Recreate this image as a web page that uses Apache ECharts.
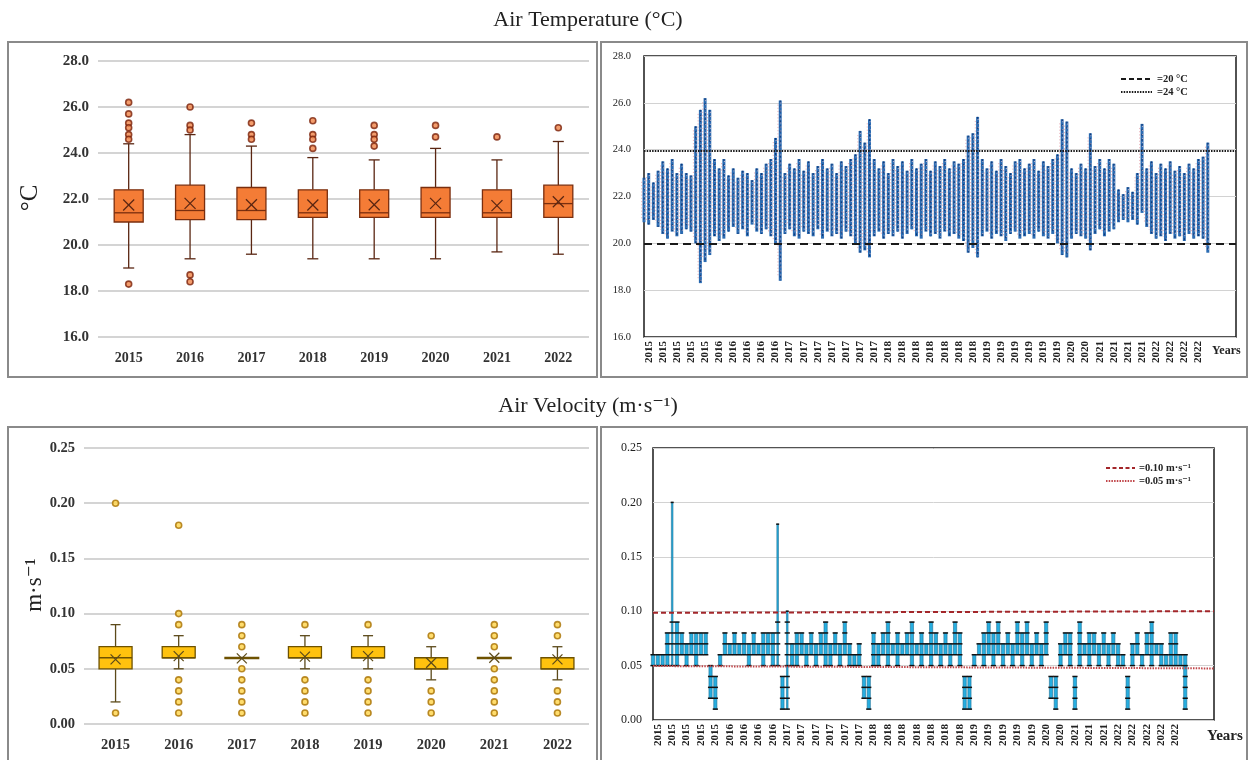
<!DOCTYPE html>
<html><head><meta charset="utf-8">
<script src="https://cdn.jsdelivr.net/npm/echarts@6/dist/echarts.min.js"></script>
<style>html,body{margin:0;padding:0;background:#fff}#c{width:1253px;height:760px}</style>
</head><body><div id="c"></div>
<script>
// ---------- DATA ----------
const years = ['2015','2016','2017','2018','2019','2020','2021','2022'];

// Air temperature box plots: [min whisker, Q1, median, Q3, max whisker]
const tempBox = [
  [19.0,21.0,21.4,22.4,24.4],
  [19.4,21.1,21.5,22.6,24.8],
  [19.6,21.1,21.5,22.5,24.3],
  [19.4,21.2,21.4,22.4,23.8],
  [19.4,21.2,21.4,22.4,23.7],
  [19.4,21.2,21.4,22.5,24.2],
  [19.7,21.2,21.4,22.4,23.7],
  [19.6,21.2,21.8,22.6,24.5]
];
const tempMean = [21.74,21.81,21.75,21.74,21.75,21.81,21.71,21.88];
const tempOut = [
  [26.2,25.7,25.3,25.1,24.8,24.6,18.3],
  [26.0,25.2,25.0,18.7,18.4],
  [25.3,24.8,24.6],
  [25.4,24.8,24.6,24.2],
  [25.2,24.8,24.6,24.3],
  [25.2,24.7],
  [24.7],
  [25.1]
];

// Air velocity box plots
const velBox = [
  [0.02,0.05,0.06,0.07,0.09],
  [0.05,0.06,0.06,0.07,0.08],
  [0.06,0.06,0.06,0.06,0.06],
  [0.05,0.06,0.06,0.07,0.08],
  [0.05,0.06,0.06,0.07,0.08],
  [0.04,0.05,0.05,0.06,0.07],
  [0.06,0.06,0.06,0.06,0.06],
  [0.04,0.05,0.05,0.06,0.07]
];
const velMean = [0.0585,0.0615,0.0595,0.061,0.0615,0.0555,0.060,0.0585];
const velOut = [
  [0.20,0.01],
  [0.18,0.10,0.09,0.04,0.03,0.02,0.01],
  [0.09,0.08,0.07,0.05,0.04,0.03,0.02,0.01],
  [0.09,0.04,0.03,0.02,0.01],
  [0.09,0.04,0.03,0.02,0.01],
  [0.08,0.03,0.02,0.01],
  [0.09,0.08,0.07,0.05,0.04,0.03,0.02,0.01],
  [0.09,0.08,0.03,0.02,0.01]
];

// Time series tick labels
const tsLabelsT = ['2015','2015','2015','2015','2015','2016','2016','2016','2016','2016',
  '2017','2017','2017','2017','2017','2017','2017','2018','2018','2018','2018','2018','2018','2018',
  '2019','2019','2019','2019','2019','2019','2020','2020','2021','2021','2021','2021',
  '2022','2022','2022','2022'];
const tsLabelsV = ['2015','2015','2015','2015','2015','2016','2016','2016','2016',
  '2017','2017','2017','2017','2017','2017','2018','2018','2018','2018','2018','2018','2018',
  '2019','2019','2019','2019','2019','2020','2020','2021','2021','2021',
  '2022','2022','2022','2022','2022'];

// Temperature time series (low / high per period)
const tLow = [20.9,20.8,21.0,20.7,20.4,20.2,20.5,20.3,20.4,20.6,20.5,
  20.0,18.3,19.2,19.5,
  20.3,20.1,20.2,
  20.5,20.7,20.4,20.6,20.3,20.8,20.5,20.4,20.6,20.3,
  20.0,18.4,
  20.4,20.6,20.3,20.2,20.5,20.4,20.3,20.6,20.2,20.5,20.3,20.4,20.2,20.5,20.3,20.0,
  19.6,19.7,19.4,
  20.3,20.5,20.2,20.4,20.3,20.5,20.2,20.4,20.6,20.3,20.2,20.5,20.3,20.4,20.2,20.5,20.3,20.4,20.2,20.1,
  19.6,19.8,19.4,
  20.3,20.5,20.2,20.4,20.3,20.1,20.4,20.5,20.2,20.3,20.4,20.2,20.5,20.3,20.2,20.4,20.0,
  19.5,19.4,
  20.2,20.4,20.3,20.2,
  19.7,
  20.4,20.6,20.3,20.5,20.6,
  20.9,21.0,20.9,21.0,
  20.8,21.3,20.7,
  20.4,20.2,20.3,20.1,20.4,20.2,20.3,20.1,20.4,20.2,20.3,
  20.2,19.6];
const tHigh = [22.8,23.0,22.6,23.1,23.5,23.2,23.6,23.0,23.4,23.0,22.9,
  25.0,25.7,26.2,25.7,
  23.6,23.2,23.6,
  22.9,23.2,22.8,23.1,23.0,22.7,23.2,23.0,23.4,23.6,
  24.5,26.1,
  23.0,23.4,23.2,23.6,23.1,23.5,23.0,23.3,23.6,23.2,23.4,23.0,23.5,23.3,23.6,23.8,
  24.8,24.3,25.3,
  23.6,23.2,23.5,23.0,23.6,23.3,23.5,23.1,23.6,23.2,23.4,23.6,23.1,23.5,23.3,23.6,23.2,23.5,23.4,23.6,
  24.6,24.7,25.4,
  23.6,23.2,23.5,23.1,23.6,23.3,23.0,23.5,23.6,23.2,23.4,23.6,23.1,23.5,23.3,23.6,23.8,
  25.3,25.2,
  23.2,23.0,23.4,23.2,
  24.7,
  23.3,23.6,23.2,23.6,23.4,
  22.3,22.1,22.4,22.2,
  23.0,25.1,23.2,
  23.5,23.0,23.4,23.2,23.5,23.1,23.3,23.0,23.4,23.2,23.6,
  23.7,24.3];

// Velocity time series (low / high per period)
const vLow = [0.05,0.05,0.05,0.05,
  0.05,0.05,
  0.06,0.05,0.06,0.05,0.06,0.06,
  0.02,0.01,
  0.05,0.06,0.06,0.06,0.06,0.06,0.05,0.06,0.06,0.05,0.06,0.05,
  0.05,
  0.01,0.01,
  0.05,0.05,0.06,0.05,0.06,0.05,0.06,0.05,0.05,0.06,0.05,0.06,0.05,0.05,0.05,
  0.02,0.01,
  0.05,0.05,0.06,0.05,0.06,0.05,0.06,0.06,0.05,0.06,0.05,0.06,0.05,0.06,0.05,0.06,0.05,0.06,0.05,
  0.01,0.01,
  0.05,0.06,0.05,0.06,0.05,0.06,0.05,0.06,0.05,0.06,0.05,0.06,0.05,0.06,0.05,0.06,
  0.02,0.01,
  0.05,0.06,0.05,
  0.01,
  0.05,0.06,0.05,0.06,0.05,0.06,0.05,0.06,0.05,0.05,
  0.01,
  0.05,0.06,0.05,0.06,0.05,0.06,0.05,0.05,0.05,0.05,0.05,
  0.01];
const vHigh = [0.06,0.06,0.06,0.08,
  0.20,0.09,
  0.08,0.07,0.08,0.08,0.08,0.08,
  0.05,0.04,
  0.06,0.08,0.07,0.08,0.07,0.08,0.07,0.08,0.07,0.08,0.08,0.08,
  0.18,
  0.04,0.10,
  0.07,0.08,0.08,0.07,0.08,0.07,0.08,0.09,0.07,0.08,0.07,0.09,0.07,0.06,0.07,
  0.04,0.04,
  0.08,0.07,0.08,0.09,0.07,0.08,0.07,0.08,0.09,0.07,0.08,0.07,0.09,0.08,0.07,0.08,0.07,0.09,0.08,
  0.04,0.04,
  0.06,0.07,0.08,0.09,0.08,0.09,0.07,0.08,0.07,0.09,0.08,0.09,0.07,0.08,0.07,0.09,
  0.04,0.04,
  0.07,0.08,0.08,
  0.04,
  0.09,0.07,0.08,0.08,0.07,0.08,0.07,0.08,0.07,0.06,
  0.04,
  0.07,0.08,0.06,0.08,0.09,0.07,0.07,0.06,0.08,0.08,0.06,
  0.06];

// ---------- BUILD ----------
const SERIF = '"Liberation Serif","DejaVu Serif",serif';
const NT = 127, NV = 118;             // category slots on the time-series axes
const catsT = Array.from({length: NT}, (_, i) => String(i));
const catsV = Array.from({length: NV}, (_, i) => String(i));

function boxRender(st) {
  return function (params, api) {
    const i = api.value(0);
    const c = k => api.coord([i, api.value(k)]);
    const x = c(3)[0];
    const yMin = c(1)[1], yQ1 = c(2)[1], yMed = c(3)[1], yQ3 = c(4)[1], yMax = c(5)[1], yMean = c(6)[1];
    const bw = st.boxW, cw = st.capW / 2, mk = st.mark / 2;
    const ls = {stroke: st.line, lineWidth: 1.3};
    return {type: 'group', children: [
      {type: 'line', shape: {x1: x, y1: yQ3, x2: x, y2: yMax}, style: ls},
      {type: 'line', shape: {x1: x - cw, y1: yMax, x2: x + cw, y2: yMax}, style: ls},
      {type: 'line', shape: {x1: x, y1: yQ1, x2: x, y2: yMin}, style: ls},
      {type: 'line', shape: {x1: x - cw, y1: yMin, x2: x + cw, y2: yMin}, style: ls},
      {type: 'rect', shape: {x: x - bw / 2, y: yQ3, width: bw, height: Math.max(yQ1 - yQ3, 0.5)},
        style: {fill: st.fill, stroke: st.border, lineWidth: yQ1 - yQ3 < 1 ? 2 : 1.3}},
      {type: 'line', shape: {x1: x - bw / 2, y1: yMed, x2: x + bw / 2, y2: yMed}, style: {stroke: st.border, lineWidth: 1.3}},
      {type: 'line', shape: {x1: x - mk, y1: yMean - mk, x2: x + mk, y2: yMean + mk}, style: {stroke: st.mean, lineWidth: 1.2}},
      {type: 'line', shape: {x1: x - mk, y1: yMean + mk, x2: x + mk, y2: yMean - mk}, style: {stroke: st.mean, lineWidth: 1.2}}
    ]};
  };
}

function tempRender(params, api) {
  const i = api.value(0);
  const p1 = api.coord([i, api.value(1)]), p2 = api.coord([i, api.value(2)]);
  const x = p1[0];
  return {type: 'group', children: [
    {type: 'line', shape: {x1: x - 2.3, y1: p2[1] + 4, x2: x - 2.3, y2: p1[1] - 4}, style: {stroke: '#eab0b8', lineWidth: 1, lineDash: [1.2, 2]}},
    {type: 'rect', shape: {x: x - 1.5, y: p2[1], width: 3, height: p1[1] - p2[1]}, style: {fill: '#2b6cb3'}},
    {type: 'line', shape: {x1: x, y1: p2[1], x2: x, y2: p1[1]}, style: {stroke: '#0f2f6a', lineWidth: 0.9, lineDash: [2, 3]}},
    {type: 'line', shape: {x1: x + 0.6, y1: p2[1] + 2, x2: x + 0.6, y2: p1[1] - 2}, style: {stroke: '#f2c6cc', lineWidth: 0.8, lineDash: [1, 3]}}
  ]};
}

function velRender(params, api) {
  const i = api.value(0), lo = api.value(1), hi = api.value(2);
  const p1 = api.coord([i, lo]), p2 = api.coord([i, hi]);
  const x = p1[0];
  const w = hi - lo > 0.06 ? 1.6 : 3.2;
  const ch = [{type: 'rect', shape: {x: x - w / 2, y: p2[1], width: w, height: Math.max(p1[1] - p2[1], 1)},
    style: {fill: '#27aee0', stroke: '#1b6f93', lineWidth: 0.6}}];
  const a = Math.round(lo * 100), b = Math.round(hi * 100);
  for (let k = a; k <= b; k++) {
    if (k > 9 && k < b) continue;
    const y = api.coord([i, k / 100])[1];
    const hw = k > 9 ? 1.5 : 2.6;
    ch.push({type: 'line', shape: {x1: x - hw, y1: y, x2: x + hw, y2: y}, style: {stroke: '#111', lineWidth: 1.5}});
  }
  return {type: 'group', children: ch};
}

const boxLabel = {fontFamily: SERIF, fontWeight: 'bold', color: '#333'};
const outT = [], outV = [];
tempOut.forEach((arr, i) => arr.forEach(v => outT.push([i, v])));
velOut.forEach((arr, i) => arr.forEach(v => outV.push([i, v])));

const option = {
  animation: false,
  backgroundColor: '#fff',
  grid: [
    {left: 98, top: 61, width: 491, height: 276},
    {left: 644, top: 56, width: 592, height: 281, show: true, borderColor: '#1a1a1a', borderWidth: 1.5, backgroundColor: 'transparent'},
    {left: 84, top: 448, width: 505, height: 276},
    {left: 653, top: 448, width: 561, height: 272, show: true, borderColor: '#1a1a1a', borderWidth: 1.5, backgroundColor: 'transparent'}
  ],
  xAxis: [
    {gridIndex: 0, type: 'category', data: years, axisLine: {show: false}, axisTick: {show: false},
      axisLabel: Object.assign({fontSize: 14, margin: 14}, boxLabel)},
    {gridIndex: 1, type: 'category', data: catsT, boundaryGap: false, axisLine: {show: false}, axisTick: {show: false},
      axisLabel: {interval: 0, rotate: 90, margin: 4, fontSize: 11, fontWeight: 'bold', fontFamily: SERIF, color: '#222',
        formatter: (v, idx) => (idx % 3 === 1 && tsLabelsT[(idx - 1) / 3]) ? tsLabelsT[(idx - 1) / 3] : ''}},
    {gridIndex: 2, type: 'category', data: years, axisLine: {show: false}, axisTick: {show: false},
      axisLabel: Object.assign({fontSize: 14.5, margin: 14}, boxLabel)},
    {gridIndex: 3, type: 'category', data: catsV, boundaryGap: false, axisLine: {show: false}, axisTick: {show: false},
      axisLabel: {interval: 0, rotate: 90, margin: 4, fontSize: 11, fontWeight: 'bold', fontFamily: SERIF, color: '#222',
        formatter: (v, idx) => (idx % 3 === 1 && tsLabelsV[(idx - 1) / 3]) ? tsLabelsV[(idx - 1) / 3] : ''}}
  ],
  yAxis: [
    {gridIndex: 0, type: 'value', min: 16, max: 28, interval: 2,
      axisLabel: Object.assign({fontSize: 15, margin: 9, formatter: v => v.toFixed(1)}, boxLabel),
      splitLine: {lineStyle: {color: '#c6c6c6', width: 1.5}}, axisLine: {show: false}, axisTick: {show: false}},
    {gridIndex: 1, type: 'value', min: 16, max: 28, interval: 2,
      axisLabel: {fontSize: 10.5, margin: 13, fontFamily: SERIF, color: '#222', formatter: v => v.toFixed(1)},
      splitLine: {lineStyle: {color: '#d2d2d2', width: 1}}, axisLine: {show: false}, axisTick: {show: false}},
    {gridIndex: 2, type: 'value', min: 0, max: 0.25, interval: 0.05,
      axisLabel: Object.assign({fontSize: 14.5, margin: 9, formatter: v => v.toFixed(2)}, boxLabel),
      splitLine: {lineStyle: {color: '#c6c6c6', width: 1.5}}, axisLine: {show: false}, axisTick: {show: false}},
    {gridIndex: 3, type: 'value', min: 0, max: 0.25, interval: 0.05,
      axisLabel: {fontSize: 12, margin: 11, fontFamily: SERIF, color: '#222', formatter: v => v.toFixed(2)},
      splitLine: {lineStyle: {color: '#d2d2d2', width: 1}}, axisLine: {show: false}, axisTick: {show: false}}
  ],
  series: [
    {type: 'custom', xAxisIndex: 0, yAxisIndex: 0, encode: {x: 0, y: 3},
      renderItem: boxRender({boxW: 29, capW: 11, mark: 11, fill: '#f47c36', border: '#7a2e0e', line: '#5a2612', mean: '#5a2612'}),
      data: years.map((y, i) => [i].concat(tempBox[i], [tempMean[i]]))},
    {type: 'scatter', xAxisIndex: 0, yAxisIndex: 0, data: outT, symbol: 'circle', symbolSize: 6, z: 5,
      itemStyle: {color: '#f08448', borderColor: '#7a220a', borderWidth: 1.6}},
    {type: 'custom', xAxisIndex: 1, yAxisIndex: 1, encode: {x: 0, y: [1, 2]}, renderItem: tempRender,
      data: tLow.map((v, i) => [i, v, tHigh[i]]),
      markLine: {silent: true, symbol: ['none', 'none'], label: {show: false}, animation: false,
        data: [
          {yAxis: 20, lineStyle: {color: '#1a1a1a', type: [8, 5], width: 2}},
          {yAxis: 23.95, lineStyle: {color: '#1a1a1a', type: [1.5, 1.2], width: 2}}
        ]}},
    {type: 'custom', xAxisIndex: 2, yAxisIndex: 2, encode: {x: 0, y: 3},
      renderItem: boxRender({boxW: 33, capW: 10, mark: 10, fill: '#ffc20e', border: '#6e5200', line: '#5c4a1a', mean: '#5c4a1a'}),
      data: years.map((y, i) => [i].concat(velBox[i], [velMean[i]]))},
    {type: 'scatter', xAxisIndex: 2, yAxisIndex: 2, data: outV, symbol: 'circle', symbolSize: 6, z: 5,
      itemStyle: {color: '#ffd44a', borderColor: '#a87000', borderWidth: 1.6}},
    {type: 'custom', xAxisIndex: 3, yAxisIndex: 3, encode: {x: 0, y: [1, 2]}, renderItem: velRender,
      data: vLow.map((v, i) => [i, v, vHigh[i]]),
      markLine: {silent: true, symbol: ['none', 'none'], label: {show: false}, animation: false,
        data: [
          [{coord: ['0', 0.0985], lineStyle: {color: '#a3262a', type: [5, 3], width: 2}}, {coord: [String(NV - 1), 0.100]}],
          [{coord: ['0', 0.0496], lineStyle: {color: '#c0464a', type: [1.5, 1.2], width: 2}}, {coord: [String(NV - 1), 0.0474]}]
        ]}}
  ],
  graphic: [
    {type: 'rect', shape: {x: 8, y: 42, width: 589, height: 335}, style: {fill: 'none', stroke: '#8a8a8a', lineWidth: 2}},
    {type: 'rect', shape: {x: 601, y: 42, width: 646, height: 335}, style: {fill: 'none', stroke: '#8a8a8a', lineWidth: 2}},
    {type: 'rect', shape: {x: 8, y: 427, width: 589, height: 345}, style: {fill: 'none', stroke: '#8a8a8a', lineWidth: 2}},
    {type: 'rect', shape: {x: 601, y: 427, width: 646, height: 345}, style: {fill: 'none', stroke: '#8a8a8a', lineWidth: 2}},
    {type: 'text', x: 588, y: 20, style: {text: 'Air Temperature (°C)', font: '22px ' + SERIF, fill: '#222', align: 'center', verticalAlign: 'middle'}},
    {type: 'text', x: 588, y: 406, style: {text: 'Air Velocity (m·s⁻¹)', font: '22px ' + SERIF, fill: '#222', align: 'center', verticalAlign: 'middle'}},
    {type: 'text', x: 30, y: 198, rotation: Math.PI / 2, style: {text: '°C', font: '25px ' + SERIF, fill: '#222', align: 'center', verticalAlign: 'middle'}},
    {type: 'text', x: 35, y: 585, rotation: Math.PI / 2, style: {text: 'm·s⁻¹', font: '23px ' + SERIF, fill: '#222', align: 'center', verticalAlign: 'middle'}},
    {type: 'line', shape: {x1: 1121, y1: 79, x2: 1152, y2: 79}, style: {stroke: '#1a1a1a', lineWidth: 2, lineDash: [5, 3]}},
    {type: 'text', x: 1157, y: 79, style: {text: '=20 °C', font: 'bold 10.5px ' + SERIF, fill: '#222', align: 'left', verticalAlign: 'middle'}},
    {type: 'line', shape: {x1: 1121, y1: 92, x2: 1152, y2: 92}, style: {stroke: '#1a1a1a', lineWidth: 2, lineDash: [1.5, 1.2]}},
    {type: 'text', x: 1157, y: 92, style: {text: '=24 °C', font: 'bold 10.5px ' + SERIF, fill: '#222', align: 'left', verticalAlign: 'middle'}},
    {type: 'line', shape: {x1: 1106, y1: 468, x2: 1135, y2: 468}, style: {stroke: '#a3262a', lineWidth: 2, lineDash: [4, 2.5]}},
    {type: 'text', x: 1139, y: 468, style: {text: '=0.10 m·s⁻¹', font: 'bold 10.5px ' + SERIF, fill: '#222', align: 'left', verticalAlign: 'middle'}},
    {type: 'line', shape: {x1: 1106, y1: 481, x2: 1135, y2: 481}, style: {stroke: '#c0464a', lineWidth: 2, lineDash: [1.5, 1.2]}},
    {type: 'text', x: 1139, y: 481, style: {text: '=0.05 m·s⁻¹', font: 'bold 10.5px ' + SERIF, fill: '#222', align: 'left', verticalAlign: 'middle'}},
    {type: 'text', x: 1212, y: 351, style: {text: 'Years', font: 'bold 12px ' + SERIF, fill: '#222', align: 'left', verticalAlign: 'middle'}},
    {type: 'text', x: 1207, y: 736, style: {text: 'Years', font: 'bold 15px ' + SERIF, fill: '#222', align: 'left', verticalAlign: 'middle'}}
  ]
};

const chart = echarts.init(document.getElementById('c'), null, {renderer: 'canvas'});
chart.setOption(option);
</script>
</body></html>
